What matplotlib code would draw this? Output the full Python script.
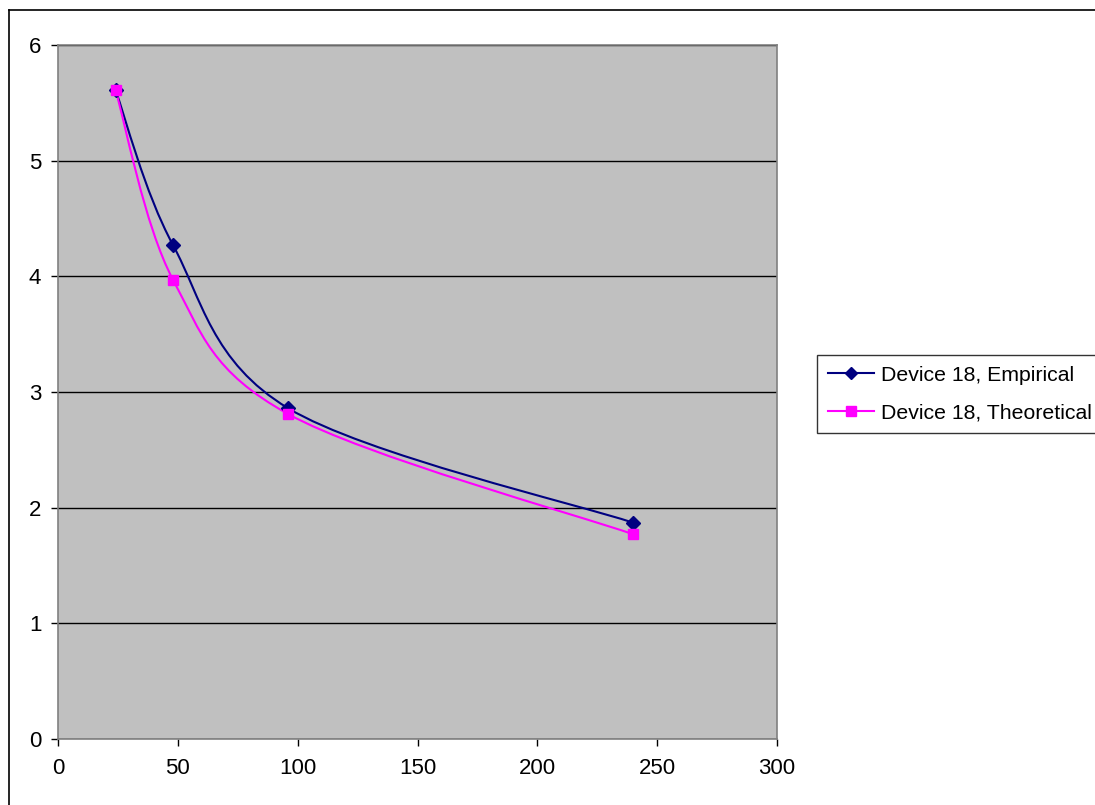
import numpy as np
import matplotlib
matplotlib.use("Agg")
import matplotlib.pyplot as plt
from matplotlib.path import Path
from matplotlib.patches import PathPatch
from matplotlib.lines import Line2D

# ─── Data ────────────────────────────────────────────────────────────────────
hours = [24, 48, 96, 240]
empirical = [5.61, 4.27, 2.86, 1.87]
theoretical = [5.61, 3.97, 2.81, 1.77]

series_labels = ["Device 18, Empirical", "Device 18, Theoretical"]
x_ticks = [0, 50, 100, 150, 200, 250, 300]
y_ticks = [0, 1, 2, 3, 4, 5, 6]

plt.rcParams["font.family"] = ["Liberation Sans", "DejaVu Sans"]


def smooth_path(xs, ys):
    """Bezier path through the points, Catmull-Rom style (spreadsheet smoothing)."""
    pts = np.column_stack([xs, ys]).astype(float)
    n = len(pts)
    verts = [pts[0]]
    codes = [Path.MOVETO]
    for i in range(n - 1):
        p0 = pts[max(i - 1, 0)]
        p1 = pts[i]
        p2 = pts[i + 1]
        p3 = pts[min(i + 2, n - 1)]
        c1 = p1 + (p2 - p0) / 6.0
        c2 = p2 - (p3 - p1) / 6.0
        verts += [c1, c2, p2]
        codes += [Path.CURVE4] * 3
    return Path(verts, codes)


fig = plt.figure(figsize=(10.95, 8.05), dpi=100)
ax = fig.add_axes([58 / 1095, 1 - 739 / 805, (777 - 58) / 1095, (739 - 45) / 805])
ax.set_facecolor("#c0c0c0")

styles = [
    (empirical, "#000080", "D", 7),
    (theoretical, "#ff00ff", "s", 7.5),
]
handles = []
for (vals, color, marker, msize), label in zip(styles, series_labels):
    ax.add_patch(PathPatch(smooth_path(hours, vals), fill=False,
                           edgecolor=color, linewidth=1.5, zorder=3))
    ax.plot(hours, vals, linestyle="none", marker=marker, markersize=msize,
            color=color, zorder=4)
    handles.append(Line2D([], [], color=color, linewidth=1.5, marker=marker,
                          markersize=msize - 0.5, label=label))

ax.set_xlim(0, 300)
ax.set_ylim(0, 6)
ax.set_xticks(x_ticks)
ax.set_yticks(y_ticks)
ax.yaxis.grid(True, color="black", linewidth=1)
ax.set_axisbelow(True)
for spine in ax.spines.values():
    spine.set_color("#808080")
    spine.set_linewidth(1.2)
ax.tick_params(axis="both", direction="out", length=5, width=1,
               color="black", labelsize=16)
ax.tick_params(axis="y", pad=7)
ax.tick_params(axis="x", pad=9)

fig.legend(handles=handles, loc="upper left",
           bbox_to_anchor=(817 / 1095, 1 - 355 / 805),
           fontsize=15.3, frameon=True, fancybox=False, edgecolor="black",
           borderpad=0.5, handlelength=2.2, handletextpad=0.3,
           labelspacing=0.9, borderaxespad=0)
leg = fig.legends[0]
leg.get_frame().set_linewidth(1)

# chart-area frame
fig.add_artist(Line2D([9 / 1095, 1], [1 - 10 / 805, 1 - 10 / 805],
                      transform=fig.transFigure, color="black", linewidth=1.2))
fig.add_artist(Line2D([9 / 1095, 9 / 1095], [0, 1 - 10 / 805],
                      transform=fig.transFigure, color="black", linewidth=1.2))

fig.savefig("out.png", dpi=100)
